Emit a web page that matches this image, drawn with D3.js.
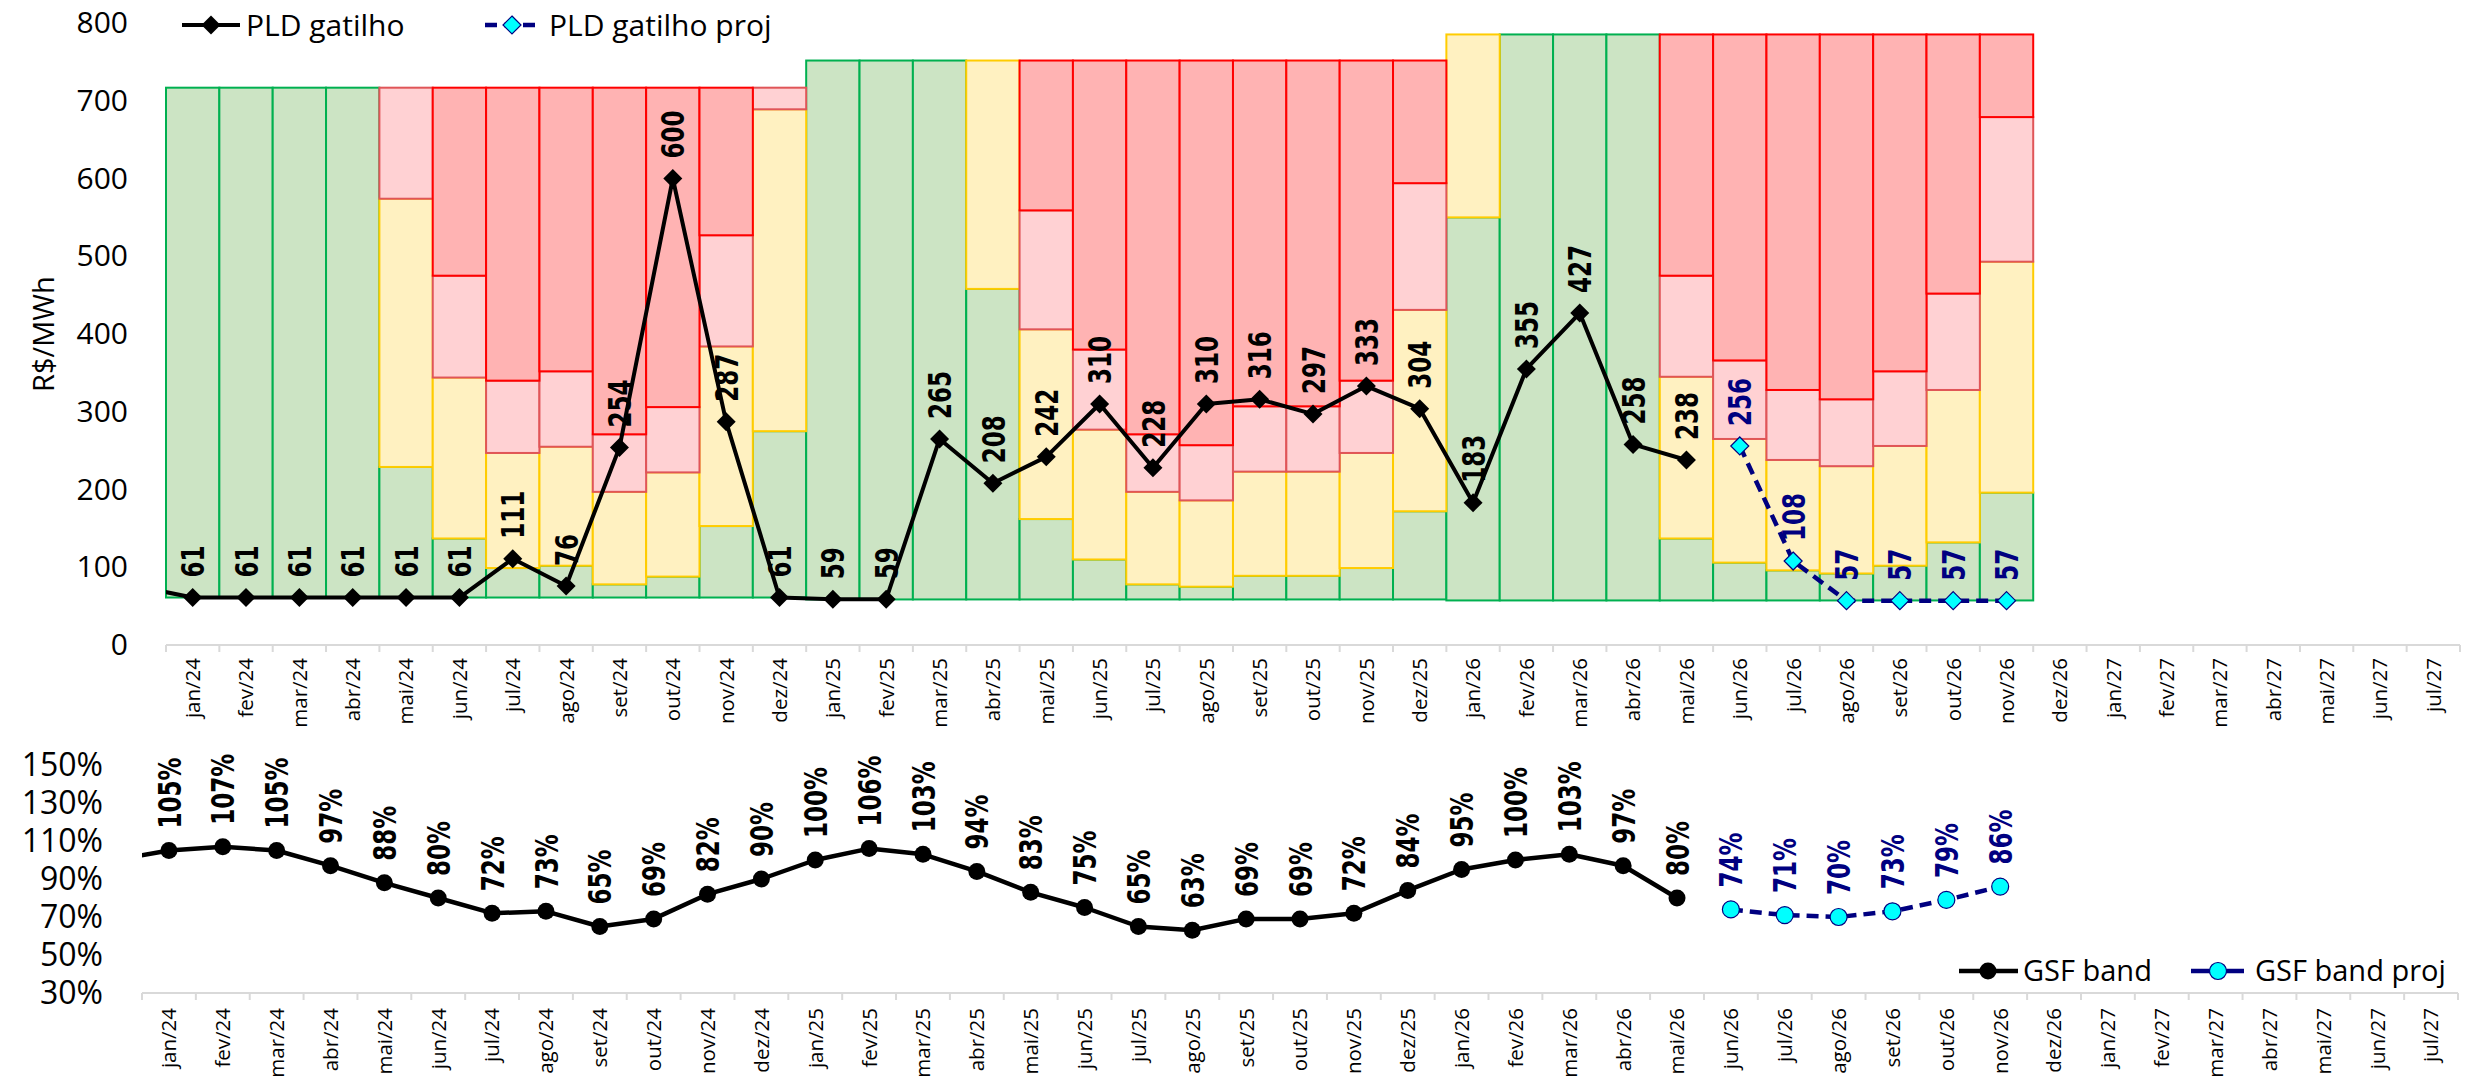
<!DOCTYPE html>
<html>
<head>
<meta charset="utf-8">
<script src="https://cdn.jsdelivr.net/npm/d3@7"></script>
<style>
  body { margin: 0; background: #fff; }
  svg { display: block; }
</style>
</head>
<body>
<svg id="chart" width="2483" height="1081"></svg>
<script>
// ---- categories ----
const months = [
  "jan/24","fev/24","mar/24","abr/24","mai/24","jun/24","jul/24","ago/24","set/24","out/24","nov/24","dez/24",
  "jan/25","fev/25","mar/25","abr/25","mai/25","jun/25","jul/25","ago/25","set/25","out/25","nov/25","dez/25",
  "jan/26","fev/26","mar/26","abr/26","mai/26","jun/26","jul/26","ago/26","set/26","out/26","nov/26","dez/26",
  "jan/27","fev/27","mar/27","abr/27","mai/27","jun/27","jul/27"
];

// ---- price bands (R$/MWh), jan/24 .. nov/26 ----
const bandFloor = [
  61.07,61.07,61.07,61.07,61.07,61.07,61.07,61.07,61.07,61.07,61.07,61.07,
  58.60,58.60,58.60,58.60,58.60,58.60,58.60,58.60,58.60,58.60,58.60,58.60,
  57.31,57.31,57.31,57.31,57.31,57.31,57.31,57.31,57.31,57.31,57.31
];
const bandCeil = [
  716.80,716.80,716.80,716.80,716.80,716.80,716.80,716.80,716.80,716.80,716.80,716.80,
  751.73,751.73,751.73,751.73,751.73,751.73,751.73,751.73,751.73,751.73,751.73,751.73,
  785.27,785.27,785.27,785.27,785.27,785.27,785.27,785.27,785.27,785.27,785.27
];
const greenTop = [
  716.80,716.80,716.80,716.80,229,137,99,102,78,88,153,275,
  751.73,751.73,751.73,458,162,110,78,75,89,89,99,172,
  550,785.27,785.27,785.27,137,106,96,92,102,132,196
];
const yellowTop = [
  716.80,716.80,716.80,716.80,574,344,247,255,197,222,384,689,
  751.73,751.73,751.73,751.73,406,277,197,186,223,223,247,431,
  785.27,785.27,785.27,785.27,345,265,238,230,256,328,493
];
const pinkTop = [
  716.80,716.80,716.80,716.80,716.80,475,340,352,271,306,527,716.80,
  751.73,751.73,751.73,751.73,559,380,271,257,307,307,340,594,
  785.27,785.27,785.27,785.27,475,366,328,316,352,452,679
];

// ---- PLD gatilho (R$/MWh) ----
const pldPrev = 75; // dez/23, only the lead-in segment is visible
const pldActual = [61,61,61,61,61,61,111,76,254,600,287,61,59,59,265,208,242,310,228,310,316,297,333,304,183,355,427,258,238];
const pldProj = [256,108,57,57,57,57];

// ---- GSF band (%) ----
const gsfPrev = 100; // dez/23
const gsfActual = [105,107,105,97,88,80,72,73,65,69,82,90,100,106,103,94,83,75,65,63,69,69,72,84,95,100,103,97,80];
const gsfProj = [74,71,70,73,79,86];

// ---- tick values ----
const pldTicks = [0,100,200,300,400,500,600,700,800];
const gsfTicks = [30,50,70,90,110,130,150];

// ---- styles ----
const C = {
  green:  { fill: "#cce4c4", stroke: "#00b050" },
  yellow: { fill: "#fff1c1", stroke: "#ffcc00" },
  pink:   { fill: "#ffd1d3", stroke: "#e05558" },
  red:    { fill: "#ffb3b3", stroke: "#ff0000" },
  axis: "#d9d9d9",
  navy: "#000080",
  cyan: "#00ffff"
};
const tickFont = "'Open Sans', 'Liberation Sans', sans-serif";
const labelFont = "'DejaVu Sans', Verdana, sans-serif";
const labelStretch = 1.4; // glyphs of the vertical value labels are drawn taller than wide

const svg = d3.select("#chart");

// ================= PLD chart =================
const x = d3.scaleBand().domain(months).range([166, 2460]).padding(0);
const y = d3.scaleLinear().domain([0, 800]).range([645, 23]);
const bw = x.bandwidth();

const defs = svg.append("defs");
defs.append("clipPath").attr("id", "clipTop")
  .append("rect").attr("x", x.range()[0]).attr("y", y(800)).attr("width", x.range()[1] - x.range()[0]).attr("height", y(0) - y(800));
defs.append("clipPath").attr("id", "clipBottom")
  .append("rect").attr("x", 142).attr("y", 700).attr("width", 2316).attr("height", 300);

// stacked bands
const bandRows = bandFloor.map((f, i) => ({
  m: months[i],
  segs: [
    { k: "green",  lo: f,            hi: greenTop[i] },
    { k: "yellow", lo: greenTop[i],  hi: yellowTop[i] },
    { k: "pink",   lo: yellowTop[i], hi: pinkTop[i] },
    { k: "red",    lo: pinkTop[i],   hi: bandCeil[i] }
  ]
}));

["green", "yellow", "pink", "red"].forEach(k => {
  svg.append("g").selectAll("rect")
    .data(bandRows.map(r => ({ m: r.m, s: r.segs.find(s => s.k === k) })).filter(d => d.s.hi - d.s.lo > 0.01))
    .join("rect")
    .attr("x", d => x(d.m))
    .attr("y", d => y(d.s.hi))
    .attr("width", bw)
    .attr("height", d => y(d.s.lo) - y(d.s.hi))
    .attr("fill", C[k].fill)
    .attr("stroke", C[k].stroke)
    .attr("stroke-width", 2);
});

// y axis labels
const yAxis = svg.append("g").attr("transform", `translate(${x.range()[0]},0)`)
  .call(d3.axisLeft(y).tickValues(pldTicks).tickSize(0).tickPadding(38));
yAxis.select(".domain").remove();
yAxis.selectAll("text").attr("font-family", tickFont).attr("font-size", 30).attr("fill", "#000");

svg.append("text")
  .attr("transform", `translate(44,${(y(0) + y(800)) / 2}) rotate(-90)`)
  .attr("text-anchor", "middle").attr("dy", "0.35em")
  .attr("font-family", tickFont).attr("font-size", 29).attr("fill", "#000")
  .text("R$/MWh");

// x axis
function categoryAxis(g, scale, yPos, labelY) {
  const [r0, r1] = scale.range();
  g.append("line").attr("x1", r0).attr("x2", r1).attr("y1", yPos).attr("y2", yPos)
    .attr("stroke", C.axis).attr("stroke-width", 2);
  const edges = scale.domain().map(m => scale(m)).concat([r1]);
  g.selectAll("line.tk").data(edges).join("line").attr("class", "tk")
    .attr("x1", d => d).attr("x2", d => d).attr("y1", yPos).attr("y2", yPos + 7)
    .attr("stroke", C.axis).attr("stroke-width", 2);
  g.selectAll("text").data(scale.domain()).join("text")
    .attr("transform", d => `translate(${scale(d) + scale.bandwidth() / 2},${labelY}) rotate(-90)`)
    .attr("text-anchor", "end").attr("dy", "0.36em")
    .attr("font-family", tickFont).attr("font-size", 20.5).attr("fill", "#000")
    .text(d => d);
}
categoryAxis(svg.append("g"), x, 645, 658);

// markers
const diamond = s => `M0,${-s}L${s},0L0,${s}L${-s},0Z`;
const cx = m => x(m) + bw / 2;

// lead-in segment from previous month
const pldLead = [{ px: cx(months[0]) - bw, v: pldPrev }, { px: cx(months[0]), v: pldActual[0] }];
svg.append("path").attr("clip-path", "url(#clipTop)")
  .attr("d", d3.line().x(d => d.px).y(d => y(d.v))(pldLead))
  .attr("fill", "none").attr("stroke", "#000").attr("stroke-width", 4);

const pldA = pldActual.map((v, i) => ({ m: months[i], v }));
const pldP = pldProj.map((v, i) => ({ m: months[pldActual.length + i], v }));

svg.append("path").attr("d", d3.line().x(d => cx(d.m)).y(d => y(d.v))(pldA))
  .attr("fill", "none").attr("stroke", "#000").attr("stroke-width", 4).attr("stroke-linejoin", "round");
svg.append("path").attr("d", d3.line().x(d => cx(d.m)).y(d => y(d.v))(pldP))
  .attr("fill", "none").attr("stroke", C.navy).attr("stroke-width", 4.5).attr("stroke-dasharray", "12,7");

svg.append("g").selectAll("path").data(pldA).join("path")
  .attr("transform", d => `translate(${cx(d.m)},${y(d.v)})`).attr("d", diamond(9.5)).attr("fill", "#000");
svg.append("g").selectAll("path").data(pldP).join("path")
  .attr("transform", d => `translate(${cx(d.m)},${y(d.v)})`).attr("d", diamond(9))
  .attr("fill", C.cyan).attr("stroke", C.navy).attr("stroke-width", 1.2);

function valueLabels(data, px, py, color, fmt, gap) {
  svg.append("g").selectAll("text").data(data).join("text")
    .attr("transform", d => `translate(${px(d)},${py(d) - gap}) scale(${labelStretch},1) rotate(-90)`)
    .attr("text-anchor", "start").attr("dy", "0.36em")
    .attr("font-family", labelFont).attr("font-weight", "bold").attr("font-size", 23).attr("fill", color)
    .text(fmt);
}
valueLabels(pldA, d => cx(d.m), d => y(d.v), "#000", d => d.v, 20);
valueLabels(pldP, d => cx(d.m), d => y(d.v), C.navy, d => d.v, 20);

// legend (top)
const lt = svg.append("g");
lt.append("line").attr("x1", 182).attr("x2", 240).attr("y1", 25).attr("y2", 25).attr("stroke", "#000").attr("stroke-width", 4);
lt.append("path").attr("transform", "translate(211,25)").attr("d", diamond(9.5)).attr("fill", "#000");
lt.append("text").attr("x", 246).attr("y", 25).attr("dy", "0.35em").attr("font-family", tickFont).attr("font-size", 30).text("PLD gatilho");
lt.append("line").attr("x1", 485).attr("x2", 540).attr("y1", 25).attr("y2", 25).attr("stroke", C.navy).attr("stroke-width", 4.5).attr("stroke-dasharray", "12,7");
lt.append("path").attr("transform", "translate(512,25)").attr("d", diamond(9)).attr("fill", C.cyan).attr("stroke", C.navy).attr("stroke-width", 1.2);
lt.append("text").attr("x", 549).attr("y", 25).attr("dy", "0.35em").attr("font-family", tickFont).attr("font-size", 30).text("PLD gatilho proj");

// ================= GSF chart =================
const xb = d3.scaleBand().domain(months).range([142, 2458]).padding(0);
const yb = d3.scaleLinear().domain([30, 150]).range([993, 765]);
const cxb = m => xb(m) + xb.bandwidth() / 2;

const ybAxis = svg.append("g").attr("transform", `translate(${xb.range()[0]},0)`)
  .call(d3.axisLeft(yb).tickValues(gsfTicks).tickSize(0).tickPadding(39).tickFormat(d => d + "%"));
ybAxis.select(".domain").remove();
ybAxis.selectAll("text").attr("font-family", tickFont).attr("font-size", 32).attr("fill", "#000");

categoryAxis(svg.append("g"), xb, 993, 1008);

const gsfA = gsfActual.map((v, i) => ({ m: months[i], v }));
const gsfP = gsfProj.map((v, i) => ({ m: months[gsfActual.length + i], v }));
const gsfLead = [{ px: cxb(months[0]) - xb.bandwidth(), v: gsfPrev }, { px: cxb(months[0]), v: gsfActual[0] }];

svg.append("path").attr("clip-path", "url(#clipBottom)")
  .attr("d", d3.line().x(d => d.px).y(d => yb(d.v))(gsfLead))
  .attr("fill", "none").attr("stroke", "#000").attr("stroke-width", 4.5);
svg.append("path").attr("d", d3.line().x(d => cxb(d.m)).y(d => yb(d.v))(gsfA))
  .attr("fill", "none").attr("stroke", "#000").attr("stroke-width", 4.5).attr("stroke-linejoin", "round");
svg.append("path").attr("d", d3.line().x(d => cxb(d.m)).y(d => yb(d.v))(gsfP))
  .attr("fill", "none").attr("stroke", C.navy).attr("stroke-width", 4.5).attr("stroke-dasharray", "12,7");

svg.append("g").selectAll("circle").data(gsfA).join("circle")
  .attr("cx", d => cxb(d.m)).attr("cy", d => yb(d.v)).attr("r", 8.5).attr("fill", "#000");
svg.append("g").selectAll("circle").data(gsfP).join("circle")
  .attr("cx", d => cxb(d.m)).attr("cy", d => yb(d.v)).attr("r", 8.5)
  .attr("fill", C.cyan).attr("stroke", C.navy).attr("stroke-width", 1.2);

valueLabels(gsfA, d => cxb(d.m), d => yb(d.v), "#000", d => d.v + "%", 22);
valueLabels(gsfP, d => cxb(d.m), d => yb(d.v), C.navy, d => d.v + "%", 22);

// legend (bottom)
const lb = svg.append("g");
lb.append("line").attr("x1", 1959).attr("x2", 2018).attr("y1", 971).attr("y2", 971).attr("stroke", "#000").attr("stroke-width", 4.5);
lb.append("circle").attr("cx", 1988).attr("cy", 971).attr("r", 8.5).attr("fill", "#000");
lb.append("text").attr("x", 2023).attr("y", 971).attr("dy", "0.35em").attr("font-family", tickFont).attr("font-size", 29).text("GSF band");
lb.append("line").attr("x1", 2191).attr("x2", 2244).attr("y1", 971).attr("y2", 971).attr("stroke", C.navy).attr("stroke-width", 4.5);
lb.append("circle").attr("cx", 2218).attr("cy", 971).attr("r", 8.5).attr("fill", C.cyan).attr("stroke", C.navy).attr("stroke-width", 1.2);
lb.append("text").attr("x", 2255).attr("y", 971).attr("dy", "0.35em").attr("font-family", tickFont).attr("font-size", 29).text("GSF band proj");
</script>
</body>
</html>
